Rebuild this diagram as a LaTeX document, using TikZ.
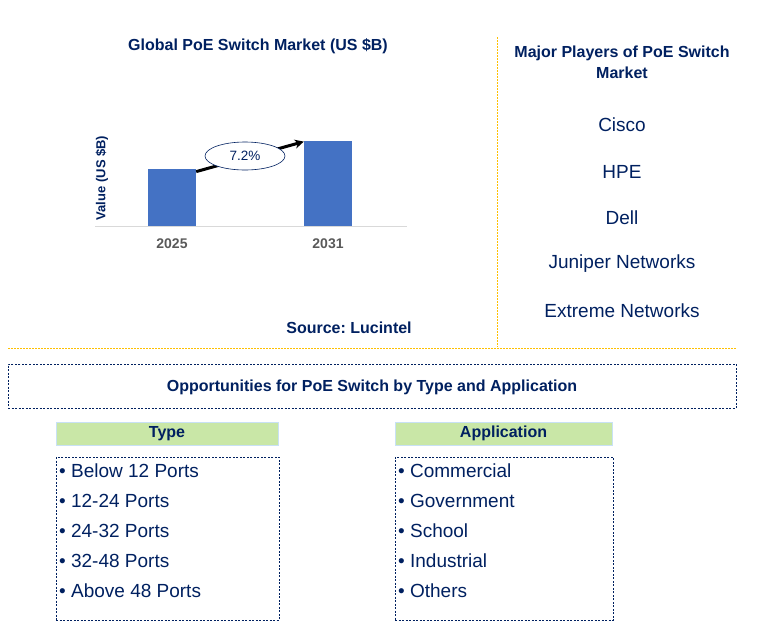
\documentclass[tikz,border=0pt]{standalone}
\usepackage{fontspec}
\setmainfont{Liberation Sans}
\usepackage{xcolor}
\usepackage{tikz}
\usetikzlibrary{arrows.meta,shapes.geometric}
\frenchspacing

\definecolor{navy}{RGB}{0,32,96}
\definecolor{barblue}{RGB}{68,114,196}
\definecolor{hdrgreen}{RGB}{201,231,167}
\definecolor{hdredge}{RGB}{200,225,245}
\definecolor{lineorange}{RGB}{255,192,0}
\definecolor{yeargray}{RGB}{89,89,89}
\definecolor{axisgray}{RGB}{217,217,217}

\tikzset{
  bar/.style={fill=barblue, minimum width=48pt, anchor=south, inner sep=0pt},
  player/.style={text=navy, font=\fontsize{19}{22}\selectfont},
  hdr/.style={fill=hdrgreen, draw=hdredge, line width=1pt, minimum width=222pt, minimum height=23pt, text=navy, font=\bfseries\fontsize{16}{19}\selectfont},
  dotbox/.style={draw=navy, dash pattern=on 2pt off 1.5pt, line width=0.8pt},
  item/.style={text=navy, anchor=west, inner sep=0pt, font=\fontsize{19}{22}\selectfont},
  sep/.style={draw=lineorange, dash pattern=on 2pt off 1pt, line width=0.8pt},
}

\begin{document}
\begin{tikzpicture}[x=1pt, y=-1pt]
    \useasboundingbox (0,0) rectangle (765,643);

    % chart
    \node[text=navy, font=\bfseries\fontsize{16}{19}\selectfont] (charttitle) at (258,46) {Global PoE Switch Market (US \$B)};
    \draw[axisgray, line width=1pt] (95,226) -- (407,226);
    \node[bar, minimum height=57pt] (b25) at (172,226) {};
    \node[bar, minimum height=85pt] (b31) at (328,226) {};
    \node[text=yeargray, font=\bfseries\fontsize{14}{17}\selectfont] (y25) at (172,244) {2025};
    \node[text=yeargray, font=\bfseries\fontsize{14}{17}\selectfont] (y31) at (328,244) {2031};
    \node[text=navy, rotate=90, font=\bfseries\fontsize{13}{16}\selectfont] (ylab) at (102,178) {Value (US \$B)};
    \draw[line width=3pt, -{Stealth[length=9pt,width=9pt]}] ([yshift=-3pt]b25.north east) -- ([yshift=-1pt]b31.north west);
    \node[ellipse, draw=navy, fill=white, line width=0.6pt, minimum width=80pt, minimum height=28pt, inner sep=0pt, text=navy, font=\fontsize{13.5}{16}\selectfont] (cagr) at (245,156) {7.2\%};
    \node[text=navy, font=\bfseries\fontsize{16}{19}\selectfont] (source) at (349,328) {Source: Lucintel};

    % separators
    \draw[sep] (497,37) -- (497,347);
    \draw[sep] (8,348) -- (736,348);

    % major players
    \node[text=navy, align=center, font=\bfseries\fontsize{16}{21}\selectfont] (players) at (622,62) {Major Players of PoE Switch\\Market};
    \node[player] (cisco) at (622,125) {Cisco};
    \node[player] (hpe) at (622,172) {HPE};
    \node[player] (dell) at (622,218) {Dell};
    \node[player] (juniper) at (622,264) {Juniper Networks};
    \node[player] (extreme) at (622,311) {Extreme Networks};

    % opportunities
    \node[dotbox, minimum width=728pt, minimum height=44pt] (opps) at (372,386) {};
    \node[text=navy, font=\bfseries\fontsize{16}{19}\selectfont] (oppstext) at (372,387.5) {Opportunities for PoE Switch by Type and Application};
    \node[hdr] (typehdr) at (167,433.5) {\raisebox{-1.5pt}{Type}};
    \node[hdr, minimum width=217pt] (apphdr) at (503.5,433.5) {\raisebox{-1.5pt}{Application}};
    \node[dotbox, minimum width=223pt, minimum height=163pt] (typebox) at (167.5,538.5) {};
    \node[dotbox, minimum width=218pt, minimum height=163pt] (appbox) at (504,538.5) {};

    \node[item] (t1) at (59,471) {• Below 12 Ports};
    \node[item] (t2) at (59,501) {• 12-24 Ports};
    \node[item] (t3) at (59,531) {• 24-32 Ports};
    \node[item] (t4) at (59,561) {• 32-48 Ports};
    \node[item] (t5) at (59,591) {• Above 48 Ports};

    \node[item] (a1) at (398,471) {• Commercial};
    \node[item] (a2) at (398,501) {• Government};
    \node[item] (a3) at (398,531) {• School};
    \node[item] (a4) at (398,561) {• Industrial};
    \node[item] (a5) at (398,591) {• Others};
\end{tikzpicture}
\end{document}
